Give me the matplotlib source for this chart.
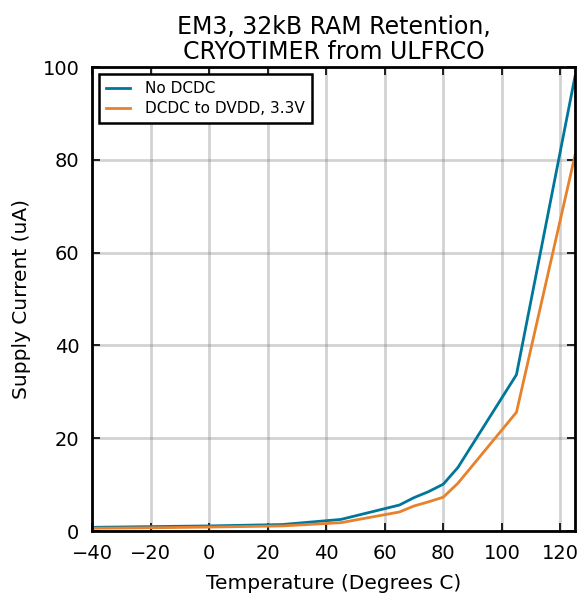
import matplotlib
matplotlib.use("Agg")
import matplotlib.pyplot as plt

# Temperatura y corriente
temps = [-40, -20, 0, 25, 45, 65, 70, 75, 80, 85, 105, 125]
no_dcdc = [0.8, 0.95, 1.1, 1.4, 2.5, 5.6, 7.2, 8.5, 10.1, 13.7, 33.7, 98.0]
dcdc_dvdd = [0.6, 0.7, 0.85, 1.1, 1.8, 4.1, 5.4, 6.3, 7.3, 10.3, 25.6, 81.0]

xticks = [-40, -20, 0, 20, 40, 60, 80, 100, 120]
yticks = [0, 20, 40, 60, 80, 100]

fig = plt.figure(figsize=(5.82, 5.94), dpi=100)
ax = fig.add_axes([0.158, 0.106, 0.830, 0.781])

ax.plot(temps, no_dcdc, color='#00779a', lw=2.0, label='No DCDC')
ax.plot(temps, dcdc_dvdd, color='#e8812b', lw=2.0, label='DCDC to DVDD, 3.3V')

ax.set_xlim(-40, 125)
ax.set_ylim(0, 100)
ax.set_xticks(xticks)
ax.set_yticks(yticks)
ax.grid(color='gray', lw=2, alpha=0.35)
ax.tick_params(direction='in', top=True, right=True, length=6, width=1.2, labelsize=14, pad=9)
for s in ax.spines.values():
    s.set_linewidth(2)

ax.set_title("EM3, 32kB RAM Retention,\nCRYOTIMER from ULFRCO", fontsize=17, linespacing=1.05, pad=6)
ax.set_xlabel('Temperature (Degrees C)', fontsize=14.5, labelpad=8)
ax.set_ylabel('Supply Current (uA)', fontsize=14.5, labelpad=8)

leg = ax.legend(loc='upper left', fontsize=11, fancybox=False, framealpha=1,
                edgecolor='black', borderpad=0.45, handlelength=1.6, handletextpad=1.0,
                borderaxespad=0.45, labelspacing=0.35)
leg.get_frame().set_linewidth(1.8)

fig.savefig('out.png', dpi=100)
